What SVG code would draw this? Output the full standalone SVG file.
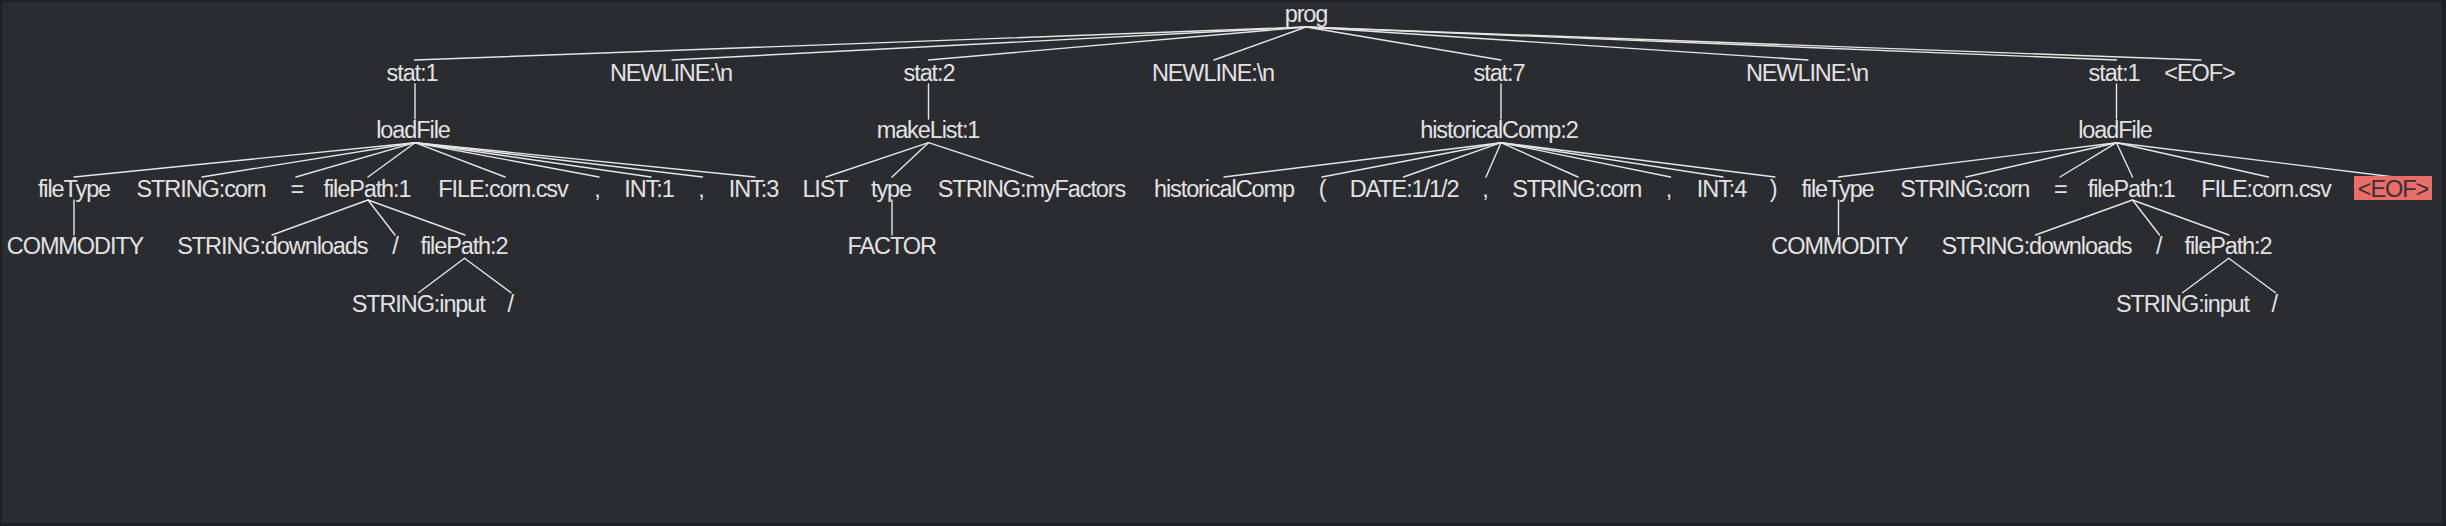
<svg xmlns="http://www.w3.org/2000/svg" width="2446" height="526" viewBox="0 0 2446 526">
<style>
.t{font-family:"Liberation Sans",Arial,Helvetica,sans-serif;font-size:23.5px;letter-spacing:-1.1px;fill:#e2e2e4;text-anchor:middle}
.hl{fill:#3a3033}
.edges line{stroke:#e6e6e6;stroke-width:1.4;stroke-linecap:round}
</style>
<rect x="0" y="0" width="2446" height="526" fill="#1f2023"/>
<rect x="2" y="2" width="2440" height="521" fill="#2b2c30"/>
<g class="edges" id="connectors">
<line x1="1306" y1="27" x2="414.5" y2="60"/>
<line x1="1306" y1="27" x2="672" y2="60"/>
<line x1="1306" y1="27" x2="928.5" y2="60"/>
<line x1="1306" y1="27" x2="1214" y2="60"/>
<line x1="1306" y1="27" x2="1501" y2="60"/>
<line x1="1306" y1="27" x2="1808" y2="60"/>
<line x1="1306" y1="27" x2="2116.5" y2="60"/>
<line x1="1306" y1="27" x2="2201" y2="60"/>
<line x1="415" y1="84" x2="415" y2="119"/>
<line x1="928.5" y1="84" x2="928.5" y2="119"/>
<line x1="1501" y1="84" x2="1501" y2="119"/>
<line x1="2116.5" y1="84" x2="2116.5" y2="119"/>
<line x1="415" y1="142.7" x2="74" y2="177"/>
<line x1="415" y1="142.7" x2="202" y2="177"/>
<line x1="415" y1="142.7" x2="296" y2="177"/>
<line x1="415" y1="142.7" x2="368" y2="177"/>
<line x1="415" y1="142.7" x2="505" y2="177"/>
<line x1="415" y1="142.7" x2="599" y2="177"/>
<line x1="415" y1="142.7" x2="651" y2="177"/>
<line x1="415" y1="142.7" x2="702.5" y2="177"/>
<line x1="415" y1="142.7" x2="755" y2="177"/>
<line x1="928.5" y1="142.7" x2="826" y2="177"/>
<line x1="928.5" y1="142.7" x2="892" y2="177"/>
<line x1="928.5" y1="142.7" x2="1033" y2="177"/>
<line x1="1501" y1="142.7" x2="1224" y2="177"/>
<line x1="1501" y1="142.7" x2="1322" y2="177"/>
<line x1="1501" y1="142.7" x2="1403.5" y2="177"/>
<line x1="1501" y1="142.7" x2="1486" y2="177"/>
<line x1="1501" y1="142.7" x2="1578" y2="177"/>
<line x1="1501" y1="142.7" x2="1670.5" y2="177"/>
<line x1="1501" y1="142.7" x2="1723" y2="177"/>
<line x1="1501" y1="142.7" x2="1775" y2="177"/>
<line x1="2116.5" y1="142.7" x2="1838.5" y2="177"/>
<line x1="2116.5" y1="142.7" x2="1966" y2="177"/>
<line x1="2116.5" y1="142.7" x2="2060" y2="177"/>
<line x1="2116.5" y1="142.7" x2="2132.5" y2="177"/>
<line x1="2116.5" y1="142.7" x2="2268.5" y2="177"/>
<line x1="2116.5" y1="142.7" x2="2394" y2="177"/>
<line x1="74" y1="200" x2="74" y2="235"/>
<line x1="368" y1="200" x2="272" y2="235"/>
<line x1="368" y1="200" x2="395" y2="235"/>
<line x1="368" y1="200" x2="465" y2="235"/>
<line x1="892" y1="200" x2="892" y2="235"/>
<line x1="1838.5" y1="200" x2="1838.5" y2="235"/>
<line x1="2132.5" y1="200" x2="2035.5" y2="235"/>
<line x1="2132.5" y1="200" x2="2159.5" y2="235"/>
<line x1="2132.5" y1="200" x2="2229" y2="235"/>
<line x1="464.5" y1="258.3" x2="418.5" y2="292.7"/>
<line x1="464.5" y1="258.3" x2="511" y2="292.7"/>
<line x1="2228.7" y1="258.3" x2="2182.5" y2="292.7"/>
<line x1="2228.7" y1="258.3" x2="2275.5" y2="292.7"/>
</g>
<g id="n-prog"><text class="t" x="1306" y="22">prog</text></g>
<g id="n-stat1a"><text class="t" x="412" y="80.5">stat:1</text></g>
<g id="n-nl1"><text class="t" x="671" y="80.5">NEWLINE:\n</text></g>
<g id="n-stat2"><text class="t" x="929" y="80.5">stat:2</text></g>
<g id="n-nl2"><text class="t" x="1213" y="80.5">NEWLINE:\n</text></g>
<g id="n-stat7"><text class="t" x="1499" y="80.5">stat:7</text></g>
<g id="n-nl3"><text class="t" x="1807" y="80.5">NEWLINE:\n</text></g>
<g id="n-stat1b"><text class="t" x="2114" y="80.5">stat:1</text></g>
<g id="n-eof1"><text class="t" x="2199.5" y="80.5">&lt;EOF&gt;</text></g>
<g id="n-loadFileA"><text class="t" x="413" y="138">loadFile</text></g>
<g id="n-makeList"><text class="t" x="928" y="138">makeList:1</text></g>
<g id="n-hc2"><text class="t" x="1499" y="138">historicalComp:2</text></g>
<g id="n-loadFileB"><text class="t" x="2115" y="138">loadFile</text></g>
<g id="n-fileTypeA"><text class="t" x="74" y="196.5">fileType</text></g>
<g id="n-strCornA"><text class="t" x="201" y="196.5">STRING:corn</text></g>
<g id="n-eqA"><text class="t" x="296.7" y="196.5">=</text></g>
<g id="n-filePath1A"><text class="t" x="367" y="196.5">filePath:1</text></g>
<g id="n-fileA"><text class="t" x="503" y="196.5">FILE:corn.csv</text></g>
<g id="n-comma1"><text class="t" x="597" y="196.5">,</text></g>
<g id="n-int1"><text class="t" x="649" y="196.5">INT:1</text></g>
<g id="n-comma2"><text class="t" x="701" y="196.5">,</text></g>
<g id="n-int3"><text class="t" x="753.5" y="196.5">INT:3</text></g>
<g id="n-list"><text class="t" x="825" y="196.5">LIST</text></g>
<g id="n-type"><text class="t" x="891" y="196.5">type</text></g>
<g id="n-myFactors"><text class="t" x="1031.5" y="196.5">STRING:myFactors</text></g>
<g id="n-historicalComp"><text class="t" x="1224" y="196.5">historicalComp</text></g>
<g id="n-lparen"><text class="t" x="1322" y="196.5">(</text></g>
<g id="n-date"><text class="t" x="1404" y="196.5">DATE:1/1/2</text></g>
<g id="n-comma3"><text class="t" x="1485" y="196.5">,</text></g>
<g id="n-strCornH"><text class="t" x="1576.7" y="196.5">STRING:corn</text></g>
<g id="n-comma4"><text class="t" x="1668.5" y="196.5">,</text></g>
<g id="n-int4"><text class="t" x="1721.5" y="196.5">INT:4</text></g>
<g id="n-rparen"><text class="t" x="1773" y="196.5">)</text></g>
<g id="n-fileTypeB"><text class="t" x="1837.5" y="196.5">fileType</text></g>
<g id="n-strCornB"><text class="t" x="1964.7" y="196.5">STRING:corn</text></g>
<g id="n-eqB"><text class="t" x="2060.3" y="196.5">=</text></g>
<g id="n-filePath1B"><text class="t" x="2131.3" y="196.5">filePath:1</text></g>
<g id="n-fileB"><text class="t" x="2266" y="196.5">FILE:corn.csv</text></g>
<g id="n-eof2"><rect x="2354" y="176" width="78" height="24" fill="#e96d68"/><text class="t hl" x="2393" y="196.5">&lt;EOF&gt;</text></g>
<g id="n-commodityA"><text class="t" x="75" y="254">COMMODITY</text></g>
<g id="n-downloadsA"><text class="t" x="272.3" y="254">STRING:downloads</text></g>
<g id="n-slashA1"><text class="t" x="395" y="254">/</text></g>
<g id="n-filePath2A"><text class="t" x="464" y="254">filePath:2</text></g>
<g id="n-factor"><text class="t" x="891.7" y="254">FACTOR</text></g>
<g id="n-commodityB"><text class="t" x="1839.5" y="254">COMMODITY</text></g>
<g id="n-downloadsB"><text class="t" x="2036.5" y="254">STRING:downloads</text></g>
<g id="n-slashB1"><text class="t" x="2158.7" y="254">/</text></g>
<g id="n-filePath2B"><text class="t" x="2228" y="254">filePath:2</text></g>
<g id="n-inputA"><text class="t" x="418.2" y="311.5">STRING:input</text></g>
<g id="n-slashA2"><text class="t" x="510.3" y="311.5">/</text></g>
<g id="n-inputB"><text class="t" x="2182.5" y="311.5">STRING:input</text></g>
<g id="n-slashB2"><text class="t" x="2274.2" y="311.5">/</text></g>
</svg>
